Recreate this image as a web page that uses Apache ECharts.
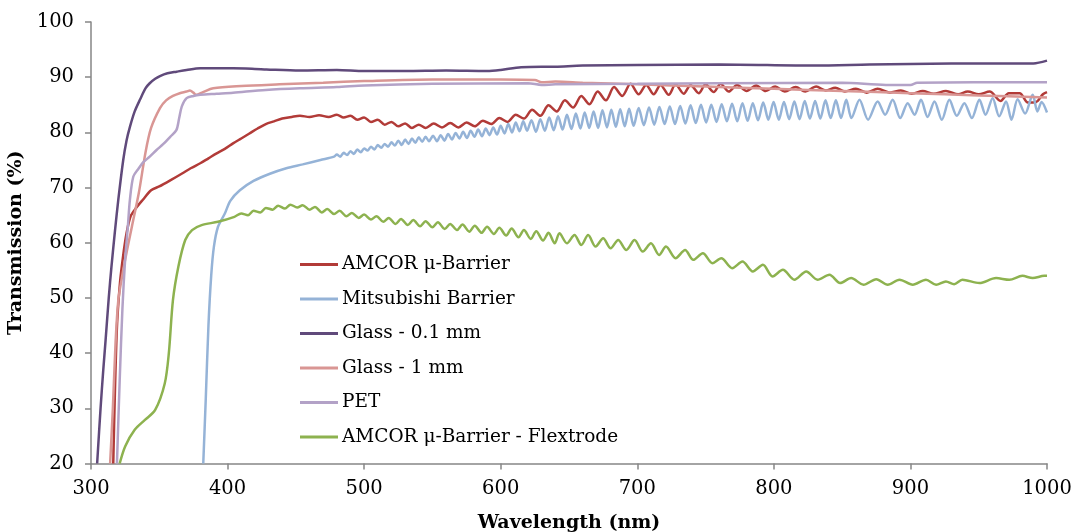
<!DOCTYPE html>
<html>
<head>
<meta charset="utf-8">
<script src="https://cdn.jsdelivr.net/npm/echarts@6/dist/echarts.min.js"></script>
<style>
html,body{margin:0;padding:0;background:#fff;}
#c{width:1075px;height:532px;}
</style>
</head>
<body>
<div id="c"></div>
<script>
// ---- Data (wavelength nm, transmission %) ----
const seriesNames = ['AMCOR \u03bc-Barrier','Mitsubishi Barrier','Glass - 0.1 mm','Glass - 1 mm','PET','AMCOR \u03bc-Barrier - Flextrode'];
const xTicks = [300,400,500,600,700,800,900,1000];
const yTicks = [20,30,40,50,60,70,80,90,100];

const amcor = [[316.3,20],[318.8,43.6],[321.2,52.7],[324,58.5],[326,61.7],[329,64.8],[333,66.3],[338,67.8],[344,69.5],[350,70.2],[358,71.3],[367,72.6],[373,73.5],[380,74.4],[386,75.3],[392,76.2],[398,77.0],[404,78.0],[410,78.9],[416,79.8],[422,80.7],[428,81.5],[434,82.0],[440,82.5],[447,82.8],[453,83.0],[460,82.8],[467,83.1],[474,82.8],
[480,83.2],[485,82.7],[490,83.0],[495,82.3],[500,82.7],[505,81.9],[510,82.3],[515,81.4],[520,81.9],[525,81.1],[530,81.6],[535,80.8],[540,81.4],[545,80.8],[551,81.6],[557,80.9],[563,81.7],[569,80.9],[575,81.8],[581,81.1],[587,82.1],[593,81.5],[599,82.6],[605,81.9],[611,83.2],[617,82.5],[623,84.1],[629,83.0],[635,84.9],[641,83.8],[647,85.8],[653,84.5],[659,86.6],[665,85.1],[671,87.4],[677,85.8],[683,88.2],[689,86.6],[695,88.8],[701,86.9],[706.5,88.6],[712,86.9],[717,88.6],[723,86.8],[728,88.7],[734,87.0],[739,88.6],[745,87.1],[750,88.7],[756,87.3],[761,88.8],[767,87.4],[773,88.6],[780,87.5],[787,88.5],[794,87.5],[801,88.3],[808,87.4],[816,88.2],[823,87.4],[831,88.3],[838,87.6],[845,88.1],[852,87.4],[860,87.9],[868,87.2],[876,87.9],[885,87.2],[893,87.6],[901,87.0],[909,87.5],[917,87.0],[926,87.5],[935,86.9],[942,87.4],[950,86.9],[958,87.4],[966,85.7],[972,87.1],[980,87.1],[986,85.4],[992,85.5],[997,86.9],[1000,87.3]];

const mitsubishi = [[382.2,20],[384,31.5],[386,45],[388,54],[390,59.3],[393,62.9],[398,65.3],[402,67.6],[409,69.5],[419,71.2],[431,72.5],[443,73.5],[455,74.2],[468,75.0],[478,75.6],
[480,76.0],[482.5,75.6],[485,76.3],[487.5,75.9],[490,76.6],[492.5,76.1],[495,76.9],[497.5,76.4],[500,77.1],[502.5,76.7],[505,77.4],[507.5,76.9],[510,77.7],[512.5,77.2],[515,77.9],[517.5,77.4],[520,78.2],[522.5,77.6],[525,78.5],[527.5,77.7],[530,78.7],[532.5,77.9],[535,78.9],[537.5,78.1],[540,79.1],[542.5,78.3],[545,79.2],[547.5,78.4],
[550.5,79.4],[553.3,78.4],[556,79.5],[558.8,78.5],[561.5,79.7],[564.3,78.7],[567,79.9],[569.8,78.9],[572.5,80.1],[575.3,79.0],[578,80.3],[580.8,79.2],[583.5,80.5],[586.3,79.3],[589,80.7],[591.8,79.5],[594.5,80.9],[597.3,79.6],[600,81.2],[602.8,79.8],[605.5,81.5],[608.3,80.0],[611,81.8],[613.8,80.2],[616.5,82.0],[619.3,80.3],
[622.5,82.2],[625.8,80.1],[629,82.4],[632.3,80.3],[635.5,82.7],[638.8,80.4],[642,82.9],[645.3,80.5],[648.5,83.2],[651.8,80.6],[655,83.4],[658.3,80.7],[661.5,83.6],[664.8,80.8],[668,83.8],[671.3,80.8],[674.5,84.0],[677.8,80.9],[681,84.1],[684.3,81.0],[687.5,84.2],[690.8,81.1],[694,84.3],[697.3,81.2],
[701,84.4],[704.8,81.3],[708.6,84.5],[712.4,81.4],[716.2,84.6],[720,81.5],[723.8,84.7],[727.6,81.5],[731.4,84.8],[735.2,81.6],[739,84.9],[742.8,81.7],[746.6,85.0],[750.4,81.8],[754.2,85.0],[758,81.9],[761.8,85.1],[765.6,82.0],[769.4,85.2],[773.2,82.0],[777,85.3],[780.8,82.1],[784.6,85.3],[788.4,82.2],[792.2,85.4],[796,82.3],[799.8,85.5],[803.6,82.3],[807.4,85.5],[811.2,82.4],[815,85.6],[818.8,82.4],[822.6,85.7],[826.4,82.5],[830.2,85.7],[834,82.5],[837.8,85.8],[841.6,82.6],[845.4,85.8],[849.2,82.6],[853,85.9],[856.8,82.6],
[862.7,85.9],[869,82.3],[876,85.6],[881.5,83.2],[887,85.9],[892.5,82.6],[898,85.3],[903,83.2],[907.7,85.9],[912.6,82.8],[917.6,85.6],[923,82.3],[928.5,85.9],[934,83.0],[939.5,85.3],[945,82.6],[950.5,85.9],[955,83.2],[960.2,86.2],[965,82.9],[970,85.6],[974,82.3],[978.5,86.0],[984,83.4],[989.5,86.8],[993,83.8],[996,85.5],[1000,83.6]];

const glass01 = [[304.5,20],[307,30],[309,37],[310.7,42.4],[313,50],[315,55.7],[317.5,62],[320,67.8],[323.6,75.0],[326,78.5],[328.5,81],[332,83.8],[336,86.0],[340,88.0],[343,88.9],[347,89.7],[350.5,90.2],[356,90.7],[362.7,91.0],[370,91.3],[380,91.6],[390,91.6],[404,91.6],[420,91.5],[428.5,91.4],[453,91.2],[480,91.3],[500,91.1],[530,91.1],[560,91.2],[590,91.1],[600,91.3],[615,91.8],[640,91.9],[660,92.1],[700,92.2],[760,92.3],[830,92.1],[870,92.3],[900,92.4],[960,92.5],[990,92.5],[1000,93.0]];

const glass1 = [[314,20],[316,30],[318,42],[320,49.6],[322.5,53.5],[325,56.9],[327.5,60],[330,63],[335,69],[340,76.5],[344,80.8],[350.5,84.4],[355,85.8],[360,86.6],[365,87.1],[370,87.4],[372.4,87.6],[375,87.2],[377,86.8],[382,87.3],[389.5,88.0],[410,88.4],[438,88.7],[470,89.0],[500,89.3],[550,89.6],[600,89.6],[625,89.5],[630,89.1],[640,89.2],[660,89.0],[700,88.7],[750,88.3],[800,87.9],[850,87.5],[900,87.1],[950,86.7],[1000,86.3]];

const pet = [[319,20],[321,35],[323,48],[325,57],[327,63],[328.5,67.8],[331,72.0],[335,73.5],[338.3,74.6],[343,75.6],[348,76.8],[353,77.9],[358,79.2],[362.5,80.4],[364.5,82.5],[366.5,84.7],[370,86.2],[375,86.6],[380,86.8],[392,87.0],[404,87.2],[428,87.7],[453,88.0],[480,88.2],[500,88.5],[550,88.8],[620,88.9],[630,88.6],[640,88.7],[700,88.8],[760,88.9],[850,89.0],[882,88.6],[900,88.6],[905,89.0],[1000,89.1]];

const flextrode = [[321,20],[325,23.1],[332,26.1],[339.5,27.9],[347,29.7],[354,34.5],[357,40],[360,49.6],[364,55.7],[369,60.5],[374,62.3],[381,63.2],[393,63.8],[405,64.7],
[410,65.3],[415,65.0],[419,65.8],[424,65.5],[428,66.3],[433,66.0],[437,66.7],[442,66.2],[446,66.9],[451,66.4],[455,66.8],[460,66.0],[464,66.5],[469,65.5],[473,66.1],[478,65.2],[482,65.8],[487,64.8],[491,65.4],[496,64.5],[500,65.1],[505,64.2],[509,64.8],[514,63.8],[518,64.5],[523,63.4],[527,64.3],[532,63.2],[536,64.1],[541,63.0],[545,63.9],[550,62.8],[554,63.7],[559,62.5],[563,63.4],[568,62.3],[572,63.3],[577,62.0],[581,63.1],[586,61.8],[590,62.9],[595,61.6],[599,62.7],[604,61.3],[608,62.6],[613,61.0],[617,62.3],[622,60.7],[626,62.1],[631,60.4],[635,61.8],
[639.5,59.9],[643,61.7],[648.5,59.9],[654,61.4],[659,59.6],[664,61.4],[669.5,59.3],[675,60.8],[680.5,59.0],[686,60.5],[692,58.7],[698,60.5],[704,58.4],[710,59.9],[716,57.8],[721,59.3],[728,57.2],[735,58.7],[741,56.9],[748,58.1],[755,56.3],[761.5,57.2],[769.5,55.4],[777,56.6],[784.6,54.8],[792,56.0],[799,53.9],[806.6,55.1],[815,53.3],[823.7,54.8],[832,53.3],[840.7,54.2],[848.5,52.7],[856.6,53.6],[865.6,52.4],[875,53.4],[883.4,52.4],[892,53.3],[901.7,52.4],[911.4,53.3],[918.8,52.4],[926,53.0],[932,52.5],[938,53.3],[950.5,52.7],[962.7,53.6],[972.4,53.3],[982,54.0],[989.5,53.6],[998,54.0],[1000,54.0]];

const seriesData = [amcor, mitsubishi, glass01, glass1, pet, flextrode];
const seriesColors = ['#B23B38','#95B3D7','#604A7B','#D99694','#B3A2C7','#8DB24F'];

const FONT = 'DejaVu Serif';
const chart = echarts.init(document.getElementById('c'), null, {renderer:'canvas'});
chart.setOption({
  animation:false,
  backgroundColor:'#ffffff',
  grid:{left:91, right:28, top:22, bottom:68.5, containLabel:false, outerBoundsMode:'none'},
  legend:{
    show:true, orient:'vertical', left:300, top:254, padding:0,
    icon:'rect', itemWidth:38, itemHeight:3, itemGap:13.5,
    data:seriesNames,
    textStyle:{fontFamily:FONT, fontSize:18.5, color:'#000', lineHeight:21, padding:[0,0,0,-1]}
  },
  xAxis:{
    type:'value', min:xTicks[0], max:xTicks[xTicks.length-1], interval:xTicks[1]-xTicks[0],
    name:'Wavelength (nm)', nameLocation:'middle', nameGap:50,
    nameTextStyle:{fontFamily:FONT, fontSize:19, fontWeight:'bold', color:'#000'},
    axisLine:{show:true, lineStyle:{color:'#868686', width:1.5}},
    axisTick:{show:true, length:6, lineStyle:{color:'#868686', width:1.5}},
    axisLabel:{fontFamily:FONT, fontSize:19.5, color:'#000', margin:15, formatter:(v)=>String(v)},
    splitLine:{show:false}
  },
  yAxis:{
    type:'value', min:yTicks[0], max:yTicks[yTicks.length-1], interval:yTicks[1]-yTicks[0],
    name:'Transmission (%)', nameLocation:'middle', nameGap:56, nameRotate:90,
    nameTextStyle:{fontFamily:FONT, fontSize:19, fontWeight:'bold', color:'#000'},
    axisLine:{show:true, lineStyle:{color:'#868686', width:1.5}},
    axisTick:{show:true, length:6, lineStyle:{color:'#868686', width:1.5}},
    axisLabel:{fontFamily:FONT, fontSize:19.5, color:'#000', margin:17, formatter:(v)=>String(v)},
    splitLine:{show:false}
  },
  series: seriesNames.map((n,i)=>({
    name:n, type:'line', data:seriesData[i], symbol:'none', showSymbol:false,
    smooth:0.3,
    lineStyle:{color:seriesColors[i], width:2.5}, itemStyle:{color:seriesColors[i]},
    emphasis:{disabled:true}, z: 2
  }))
});
</script>
</body>
</html>
